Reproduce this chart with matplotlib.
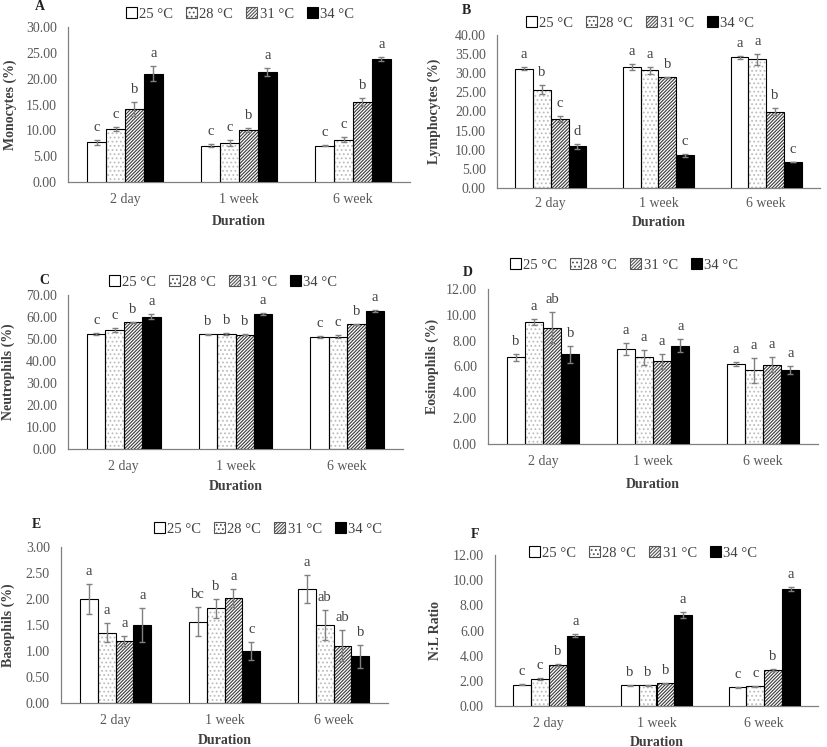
import numpy as np
import matplotlib
matplotlib.use("Agg")
import matplotlib.pyplot as plt
from matplotlib.patches import Patch

plt.rcParams['font.family'] = ['Liberation Serif', 'DejaVu Serif']
plt.rcParams['hatch.linewidth'] = 0.8

durations = ['2 day', '1 week', '6 week']
temps = ['25 °C', '28 °C', '31 °C', '34 °C']

# rows = temperature, columns = duration
mono_mean = [[7.7, 7.0, 7.0], [10.3, 7.5, 8.2], [14.1, 10.1, 15.5], [21.0, 21.3, 23.8]]
mono_err = [[0.5, 0.3, 0.1], [0.4, 0.6, 0.5], [1.4, 0.4, 0.8], [1.5, 0.8, 0.4]]
mono_sig = [['c', 'c', 'c'], ['c', 'c', 'c'], ['b', 'b', 'b'], ['a', 'a', 'a']]

lymph_mean = [[31.2, 31.7, 34.2], [25.7, 30.8, 33.6], [18.0, 28.9, 20.0], [10.9, 8.6, 6.8]]
lymph_err = [[0.4, 0.8, 0.4], [1.2, 0.9, 1.5], [0.8, 0.1, 0.8], [0.6, 0.4, 0.1]]
lymph_sig = [['a', 'a', 'a'], ['b', 'a', 'a'], ['c', 'b', 'b'], ['d', 'c', 'c']]

neut_mean = [[52.4, 52.2, 51.0], [54.0, 52.2, 51.0], [57.6, 51.9, 56.7], [60.2, 61.3, 62.9]]
neut_err = [[0.4, 0.2, 0.4], [0.8, 0.5, 0.7], [0.2, 0.2, 0.3], [1.1, 0.3, 0.4]]
neut_sig = [['c', 'b', 'c'], ['c', 'b', 'c'], ['b', 'b', 'b'], ['a', 'a', 'a']]

eos_mean = [[6.7, 7.35, 6.2], [9.45, 6.7, 5.7], [9.0, 6.4, 6.15], [6.95, 7.6, 5.7]]
eos_err = [[0.3, 0.45, 0.15], [0.2, 0.6, 0.95], [1.2, 0.6, 0.6], [0.65, 0.5, 0.3]]
eos_sig = [['b', 'a', 'a'], ['a', 'a', 'a'], ['ab', 'a', 'a'], ['b', 'a', 'a']]

baso_mean = [[2.0, 1.56, 2.19], [1.35, 1.82, 1.5], [1.19, 2.02, 1.1], [1.5, 1.0, 0.9]]
baso_err = [[0.28, 0.28, 0.27], [0.18, 0.18, 0.29], [0.1, 0.17, 0.3], [0.32, 0.18, 0.22]]
baso_sig = [['a', 'bc', 'a'], ['a', 'b', 'ab'], ['a', 'a', 'ab'], ['a', 'c', 'b']]

nl_mean = [[1.7, 1.65, 1.5], [2.15, 1.65, 1.55], [3.25, 1.8, 2.85], [5.6, 7.25, 9.3]]
nl_err = [[0.03, 0.03, 0.03], [0.1, 0.03, 0.05], [0.1, 0.05, 0.1], [0.12, 0.25, 0.15]]
nl_sig = [['c', 'b', 'c'], ['c', 'b', 'c'], ['b', 'b', 'b'], ['a', 'a', 'a']]

W, H = 827, 747
fig = plt.figure(figsize=(W / 100, H / 100), dpi=100)

# face, hatch, hatch colour for each temperature
styles = [('white', None, None), ('white', '....', '#bdbdbd'),
          ('white', '/' * 10, '#3a3a3a'), ('black', None, None)]

TXT = '#404040'
TICK = '#595959'


def draw_panel(box, letter, letter_xy, ylabel, ylabel_x, mean, err, sig,
               ymax, step, legend_xy, dur_y, tickpad=8):
    l, t, r, b = box
    ax = fig.add_axes([l / W, 1 - b / H, (r - l) / W, (b - t) / H])
    x = np.arange(len(durations))
    w = 0.165
    for i in range(len(temps)):
        xs = x + (i - 1.5) * w
        face, hatch, hcol = styles[i]
        if hatch:
            ax.bar(xs, mean[i], w, color=face, hatch=hatch, edgecolor=hcol,
                   linewidth=0, zorder=2)
            ax.bar(xs, mean[i], w, fill=False, edgecolor='black',
                   linewidth=0.8, zorder=3)
        else:
            ax.bar(xs, mean[i], w, color=face, edgecolor='black',
                   linewidth=0.8, zorder=3)
        ax.errorbar(xs, mean[i], yerr=err[i], fmt='none', ecolor='#808080',
                    elinewidth=1, capsize=2.5, capthick=1, zorder=4)
        for xi, m, e, s in zip(xs, mean[i], err[i], sig[i]):
            ax.annotate(s, (xi, m + e), xytext=(0, 9), textcoords='offset points',
                        ha='center', va='center', fontsize=10.5, color=TXT)
    ax.set_xlim(-0.5, 2.5)
    ax.set_ylim(0, ymax)
    ticks = np.arange(0, ymax + step / 2, step)
    ax.set_yticks(ticks)
    ax.set_yticklabels([f'{v:.2f}' for v in ticks])
    ax.set_xticks(x)
    ax.set_xticklabels(durations)
    ax.tick_params(axis='y', length=0, pad=8, labelsize=10, labelcolor=TICK)
    ax.tick_params(axis='x', length=0, pad=tickpad, labelsize=10, labelcolor=TICK)
    for sp in ['top', 'right']:
        ax.spines[sp].set_visible(False)
    for sp in ['left', 'bottom']:
        ax.spines[sp].set_color('#808080')
        ax.spines[sp].set_linewidth(0.9)
    ax.set_ylabel(ylabel, fontsize=10, fontweight='bold', color=TXT)
    ax.yaxis.label.set_va('center')
    ax.yaxis.set_label_coords((ylabel_x - l) / (r - l), 0.5)

    fig.text(letter_xy[0] / W, 1 - letter_xy[1] / H, letter, fontsize=10,
             fontweight='bold', ha='center', va='center', color='#222222')
    fig.text((l + r) / 2 / W, 1 - dur_y / H, 'Duration', fontsize=10,
             fontweight='bold', ha='center', va='center', color=TXT)

    handles = []
    for face, hatch, hcol in styles:
        if hatch:
            handles.append(Patch(facecolor=face, hatch=hatch, edgecolor='#555555',
                                 linewidth=0.8))
        else:
            handles.append(Patch(facecolor=face, edgecolor='black', linewidth=0.8))
    leg = fig.legend(handles, temps, loc='center',
                     bbox_to_anchor=(legend_xy[0] / W, 1 - legend_xy[1] / H),
                     ncol=4, frameon=False, fontsize=10.5, handlelength=0.75,
                     handleheight=0.75, handletextpad=0.15, columnspacing=0.9,
                     borderpad=0)
    for txt in leg.get_texts():
        txt.set_color(TXT)
    return ax


draw_panel((68, 27, 410, 182), 'A', (40, 7), 'Monocytes (%)', 10,
           mono_mean, mono_err, mono_sig, 30, 5, (240, 14), 222)
draw_panel((497, 35, 820, 188), 'B', (466, 10), 'Lymphocytes (%)', 434,
           lymph_mean, lymph_err, lymph_sig, 40, 5, (640, 23), 223, tickpad=6.5)
draw_panel((68, 295, 403, 449), 'C', (44, 281), 'Neutrophils (%)', 8,
           neut_mean, neut_err, neut_sig, 70, 10, (223, 282), 486)
draw_panel((488, 289, 818, 444), 'D', (468, 273), 'Eosinophils (%)', 432,
           eos_mean, eos_err, eos_sig, 12, 2, (624, 265), 485)
draw_panel((61, 547, 388, 703), 'E', (36, 525), 'Basophils (%)', 8,
           baso_mean, baso_err, baso_sig, 3, 0.5, (268, 529), 740)
draw_panel((495, 555, 818, 706), 'F', (475, 535), 'N:L Ratio', 436,
           nl_mean, nl_err, nl_sig, 12, 2, (643, 553), 742)

fig.savefig('out.png', dpi=100, facecolor='white')
